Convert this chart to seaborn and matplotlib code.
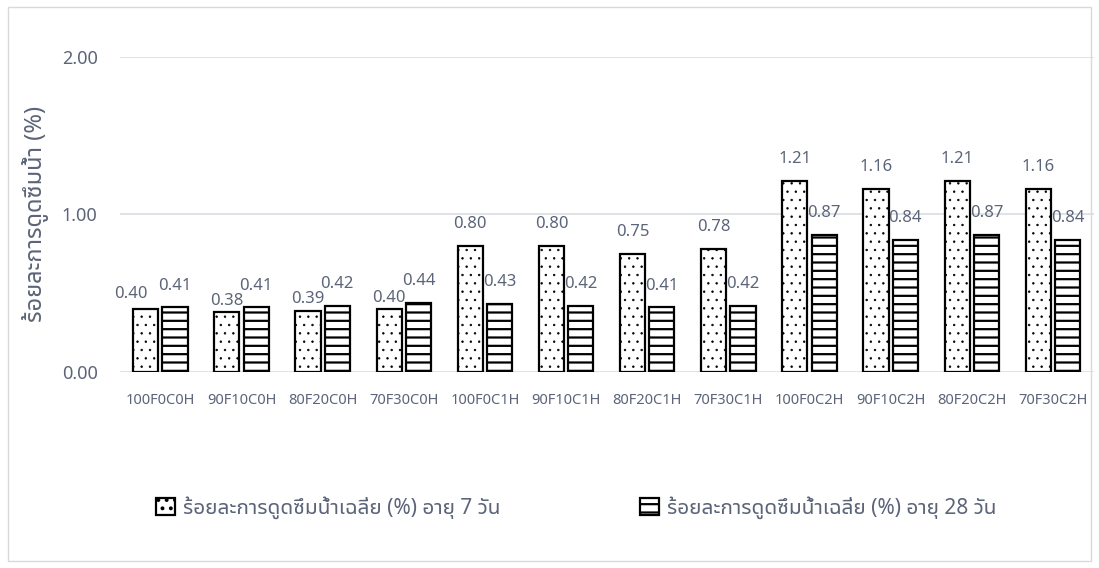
import numpy as np
import pandas as pd
import matplotlib
matplotlib.use("Agg")
import matplotlib.pyplot as plt
import seaborn as sns
from matplotlib import font_manager
from matplotlib.patches import Rectangle

# ---- data ----
mixes = ["100F0C0H", "90F10C0H", "80F20C0H", "70F30C0H",
         "100F0C1H", "90F10C1H", "80F20C1H", "70F30C1H",
         "100F0C2H", "90F10C2H", "80F20C2H", "70F30C2H"]
absorb_7d = [0.40, 0.38, 0.39, 0.40, 0.80, 0.80, 0.75, 0.78, 1.21, 1.16, 1.21, 1.16]
absorb_28d = [0.41, 0.41, 0.42, 0.44, 0.43, 0.42, 0.41, 0.42, 0.87, 0.84, 0.87, 0.84]
series_names = ["ร้อยละการดูดซึมน้ำเฉลี่ย (%) อายุ 7 วัน",
                "ร้อยละการดูดซึมน้ำเฉลี่ย (%) อายุ 28 วัน"]
y_label = "ร้อยละการดูดซึมน้ำ (%)"
y_ticks = [0.0, 1.0, 2.0]

# Thai glyphs come from a Thai family, latin from Noto Sans
installed = {f.name for f in font_manager.fontManager.ttflist}
thai = [n for n in ["Noto Sans Thai UI", "Noto Sans Thai", "IBM Plex Sans Thai"] if n in installed]

sns.set_theme(style="white")
plt.rcParams['font.family'] = ['Noto Sans'] + thai + ['DejaVu Sans']
plt.rcParams['hatch.color'] = 'black'
plt.rcParams['hatch.linewidth'] = 1.6

text_col = '#5b6478'
grid_col = '#d9dde3'
hatches = ['..', '--']
hatch_lw = [0.5, 1.6]

df = pd.DataFrame({
    "mix": mixes * 2,
    "value": absorb_7d + absorb_28d,
    "series": [series_names[0]] * len(mixes) + [series_names[1]] * len(mixes),
})

fig = plt.figure(figsize=(10.99, 5.68), dpi=100)
fig.patches.append(Rectangle((0.007, 0.013), 0.986, 0.974, transform=fig.transFigure,
                             fill=False, edgecolor='#d9d9d9', linewidth=1.0))
ax = fig.add_axes([0.109, 0.345, 0.886, 0.555])

sns.barplot(data=df, x="mix", y="value", hue="series", ax=ax,
            palette=['white', 'white'], edgecolor='black', linewidth=1.6,
            width=0.72, gap=0.14, legend=True)


def style_hatch(patch, hatch, lw):
    patch.set_hatch(hatch)
    if hasattr(patch, 'set_hatch_linewidth'):
        patch.set_hatch_linewidth(lw)


label_sets = []
for cont, hatch, lw in zip(ax.containers, hatches, hatch_lw):
    for bar in cont:
        style_hatch(bar, hatch, lw)
    label_sets.append(ax.bar_label(cont, fmt='%.2f', padding=10, fontsize=12, color=text_col))

# the short 7-day labels sit lower (Excel pushed them aside to avoid the 28-day ones)
for i, ann in enumerate(label_sets[0][:4]):
    ann.xyann = (-11, 5) if i == 0 else (0, 2.5)

ax.set_ylim(0, 2)
ax.set_yticks(y_ticks)
ax.set_yticklabels([f"{t:.2f}" for t in y_ticks])
ax.set_xlim(-0.5, len(mixes) - 0.5)
ax.yaxis.grid(True, color=grid_col, linewidth=1.2)
ax.set_axisbelow(True)
for s in ax.spines.values():
    s.set_visible(False)
ax.tick_params(axis='y', length=0, pad=16, labelsize=13, labelcolor=text_col)
ax.tick_params(axis='x', length=0, pad=15, labelsize=10.5, labelcolor=text_col)
ax.set_xlabel("")
ax.set_ylabel(y_label, fontsize=17, color=text_col, fontweight='light')
ax.yaxis.set_label_coords(-0.073, 0.5)

handles, labels = ax.get_legend_handles_labels()
ax.legend_.remove()
for h, hatch, lw in zip(handles, hatches, hatch_lw):
    style_hatch(h, hatch, lw)
leg = fig.legend(handles, labels, loc='center left', bbox_to_anchor=(0.142, 0.107),
                 ncol=2, frameon=False, fontsize=15, labelcolor=text_col,
                 handlelength=0.9, handleheight=0.9, handletextpad=0.4,
                 columnspacing=6.7, borderpad=0, borderaxespad=0)
for t in leg.get_texts():
    t.set_fontweight('light')

fig.savefig("out.png", dpi=100)
